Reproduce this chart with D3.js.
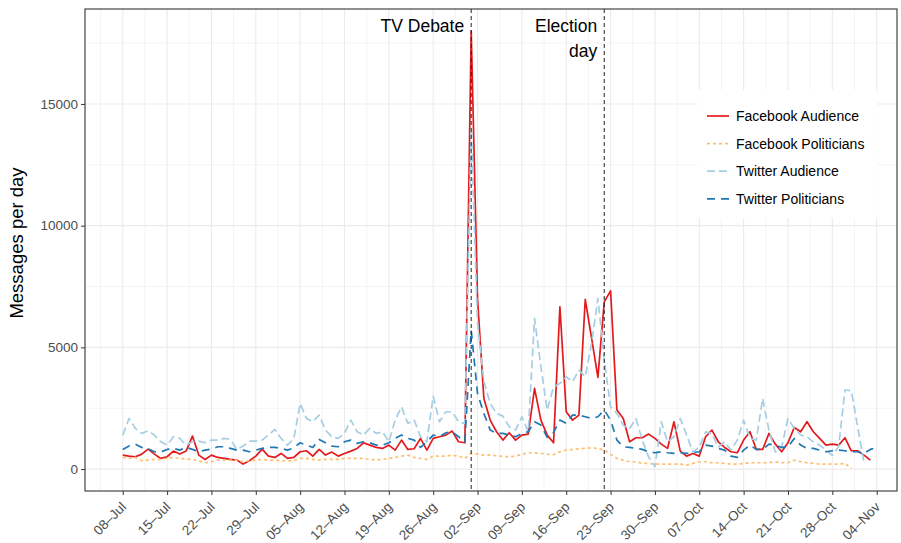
<!DOCTYPE html>
<html>
<head>
<meta charset="utf-8">
<script src="https://cdn.jsdelivr.net/npm/d3@7"></script>
<style>
body{margin:0;background:#fff;}
svg{display:block;font-family:"Liberation Sans", Arial, Helvetica, sans-serif;}
</style>
</head>
<body>
<div id="chart"></div>
<script>
// daily counts, starting 08-Jul-2013 (one value per day, null = no data)
var startDate = new Date(Date.UTC(2013, 6, 8));

var fbAudience = [575, 534, 507, 616, 821, 616, 438, 507, 739, 616,
  739, 1355, 575, 397, 575, 479, 438, 397, 370, 205,
  342, 534, 821, 534, 479, 643, 438, 479, 712, 753,
  534, 808, 575, 698, 534, 643, 739, 849, 1081, 986,
  890, 849, 986, 780, 1191, 808, 835, 1260, 780, 1260,
  1328, 1396, 1561, 1122, 1081, 18000, 7000, 2900, 2012, 1533,
  1191, 1492, 1191, 1396, 1437, 3313, 2012, 1396, 1081, 6667,
  2355, 2012, 2218, 6968, 5380, 3765, 6872, 7324, 2423, 2081,
  1122, 1287, 1287, 1437, 1260, 1027, 849, 1944, 739, 534,
  643, 534, 1328, 1602, 1122, 890, 712, 671, 1191, 1533,
  808, 808, 1465, 1027, 712, 1081, 1711, 1533, 1944, 1533,
  1260, 986, 1027, 986, 1287, 753, 753, 575, 370, null];

var fbPoliticians = [479, 438, 479, 342, 370, 397, 397, 438, 479, 438,
  411, 397, 342, 260, 301, 370, 370, 370, 370, 301,
  342, 370, 397, 370, 370, 342, 342, 350, 438, 438,
  397, 370, 397, 397, 397, 438, 438, 438, 438, 397,
  370, 397, 438, 479, 534, 575, 479, 438, 397, 534,
  534, 534, 575, 534, 438, 643, 616, 575, 575, 548,
  520, 507, 534, 602, 671, 671, 643, 616, 589, 712,
  780, 808, 835, 849, 876, 849, 780, 616, 438, 370,
  301, 301, 233, 233, 205, 205, 205, 205, 205, 164,
  233, 301, 301, 260, 260, 233, 205, 205, 233, 260,
  260, 260, 260, 301, 260, 260, 370, 301, 260, 233,
  205, 205, 205, 205, 233, 30, null, null, null, null];

var twAudience = [1396, 2081, 1670, 1465, 1574, 1396, 1122, 986, 1328, 1260,
  986, 1122, 1150, 1081, 1191, 1191, 1260, 1218, 808, 945,
  1150, 1150, 1191, 1396, 1629, 1260, 986, 1250, 2697, 2081,
  1944, 2218, 1602, 1328, 1260, 1465, 2012, 1533, 1396, 1670,
  1465, 1533, 1122, 2012, 2560, 1876, 2012, 1328, 1122, 3000,
  1944, 2355, 2355, 1944, 1876, 14000, 6000, 3600, 2697, 2286,
  2177, 1739, 1602, 2149, 1533, 6188, 4203, 2423, 3381, 3518,
  3792, 3587, 4066, 3792, 5161, 7009, 4477, 2560, 2286, 1800,
  1650, 2080, 1190, 500, 100, 1940, 1120, 1330, 2080, 1400,
  700, 900, 1530, 1460, 900, 1120, 780, 1190, 2010, 1260,
  1190, 2900, 1600, 700, 900, 2080, 1670, 1400, 1330, 1120,
  980, 780, 570, 920, 3250, 3220, 1730, 270, null, null];

var twPoliticians = [808, 950, 1027, 890, 835, 712, 700, 808, 849, 780,
  890, 808, 712, 780, 821, 917, 917, 849, 780, 780,
  712, 780, 849, 890, 890, 849, 780, 870, 1081, 986,
  890, 1218, 1081, 945, 917, 1122, 1191, 1054, 1122, 1081,
  986, 986, 1081, 1260, 1396, 1260, 1191, 890, 1122, 1396,
  1328, 1492, 1533, 1328, 1122, 5700, 3100, 2286, 1602, 1465,
  1465, 1396, 1328, 1465, 1533, 1944, 1807, 1300, 1500, 2012,
  1876, 2218, 2218, 2149, 2081, 2149, 2423, 2012, 1191, 917,
  890, 849, 808, 712, 671, 712, 671, 643, 671, 643,
  671, 712, 986, 945, 849, 780, 534, 479, 780, 986,
  808, 808, 1027, 986, 890, 917, 1260, 986, 849, 849,
  780, 712, 753, 780, 753, 712, 712, 643, 808, 890];

var seriesNames = ["Facebook Audience", "Facebook Politicians", "Twitter Audience", "Twitter Politicians"];
var tickLabels = ["08\u2013Jul", "15\u2013Jul", "22\u2013Jul", "29\u2013Jul", "05\u2013Aug", "12\u2013Aug",
  "19\u2013Aug", "26\u2013Aug", "02\u2013Sep", "09\u2013Sep", "16\u2013Sep", "23\u2013Sep",
  "30\u2013Sep", "07\u2013Oct", "14\u2013Oct", "21\u2013Oct", "28\u2013Oct", "04\u2013Nov"];
var yTicks = [0, 5000, 10000, 15000];
var eventDays = [55, 76];   // 01-Sep (TV debate), 22-Sep (election)
var eventLabels = [["TV Debate"], ["Election", "day"]];

// styles
var colors = ["#e31a1c", "#fdbf6f", "#a6cee3", "#1f78b4"];
var dashes = [null, "3,3", "8,4", "8,6"];
var gridColor = "#ebebeb";

var W = 901, H = 543;
var panel = {left: 85, right: 897, top: 9, bottom: 491};

var svg = d3.select("#chart").append("svg")
  .attr("width", W).attr("height", H);

var x = d3.scaleUtc()
  .domain([d3.utcHour.offset(startDate, -143), d3.utcHour.offset(startDate, 2933)])
  .range([panel.left, panel.right]);
var y = d3.scaleLinear()
  .domain([-900, 18900])
  .range([panel.bottom, panel.top]);

var days = fbAudience.map(function(v, i){ return d3.utcDay.offset(startDate, i); });
var tickDates = tickLabels.map(function(t, i){ return d3.utcDay.offset(startDate, 7 * i); });

//GRID
var grid = svg.append("g");
// minor x lines halfway between weekly ticks
var minorX = [d3.utcHour.offset(startDate, -84)].concat(tickDates.map(function(d){ return d3.utcHour.offset(d, 84); }));
grid.selectAll(".mx").data(minorX.filter(function(d){ return x(d) > panel.left && x(d) < panel.right; }))
  .enter().append("line")
  .attr("x1", function(d){ return x(d); }).attr("x2", function(d){ return x(d); })
  .attr("y1", panel.top).attr("y2", panel.bottom)
  .attr("stroke", gridColor).attr("stroke-width", 0.6);
var minorY = yTicks.map(function(t){ return t + 2500; });
grid.selectAll(".my").data(minorY)
  .enter().append("line")
  .attr("x1", panel.left).attr("x2", panel.right)
  .attr("y1", function(d){ return y(d); }).attr("y2", function(d){ return y(d); })
  .attr("stroke", gridColor).attr("stroke-width", 0.6);
grid.selectAll(".gx").data(tickDates)
  .enter().append("line")
  .attr("x1", function(d){ return x(d); }).attr("x2", function(d){ return x(d); })
  .attr("y1", panel.top).attr("y2", panel.bottom)
  .attr("stroke", gridColor).attr("stroke-width", 1.1);
grid.selectAll(".gy").data(yTicks)
  .enter().append("line")
  .attr("x1", panel.left).attr("x2", panel.right)
  .attr("y1", function(d){ return y(d); }).attr("y2", function(d){ return y(d); })
  .attr("stroke", gridColor).attr("stroke-width", 1.1);

//LINES
svg.append("clipPath").attr("id", "clip").append("rect")
  .attr("x", panel.left).attr("y", panel.top)
  .attr("width", panel.right - panel.left).attr("height", panel.bottom - panel.top);

var allSeries = [fbAudience, fbPoliticians, twAudience, twPoliticians];
var line = d3.line()
  .defined(function(d){ return d[1] != null; })
  .x(function(d){ return x(d[0]); })
  .y(function(d){ return y(d[1]); });

var plot = svg.append("g").attr("clip-path", "url(#clip)");
allSeries.forEach(function(vals, k){
  plot.append("path")
    .datum(vals.map(function(v, i){ return [days[i], v]; }))
    .attr("d", line)
    .attr("fill", "none")
    .attr("stroke", colors[k])
    .attr("stroke-width", 1.7)
    .attr("stroke-dasharray", dashes[k])
    .attr("stroke-linejoin", "round");
});

// event lines + labels
eventDays.forEach(function(d, k){
  var ex = x(days[d]);
  plot.append("line")
    .attr("x1", ex).attr("x2", ex)
    .attr("y1", panel.top).attr("y2", panel.bottom)
    .attr("stroke", "#222").attr("stroke-width", 1)
    .attr("stroke-dasharray", "4,3");
  eventLabels[k].forEach(function(t, j){
    svg.append("text")
      .attr("x", ex - 7).attr("y", 32 + j * 25)
      .attr("text-anchor", "end")
      .attr("font-size", "17.5px")
      .attr("fill", "#000")
      .text(t);
  });
});

//AXES
var xAxis = svg.append("g")
  .attr("transform", "translate(0," + panel.bottom + ")")
  .call(d3.axisBottom(x).tickValues(tickDates)
    .tickFormat(function(d, i){ return tickLabels[i]; })
    .tickSize(4).tickSizeOuter(0));
xAxis.select(".domain").remove();
xAxis.selectAll(".tick line").attr("stroke", "#333");
xAxis.selectAll(".tick text")
  .attr("x", 0).attr("y", 0).attr("dy", "0.71em")
  .attr("transform", "translate(-3,10) rotate(-45)")
  .attr("text-anchor", "end")
  .attr("font-size", "13.5px")
  .attr("font-family", "Liberation Sans, Arial, sans-serif")
  .attr("fill", "#4d4d4d");

var yAxis = svg.append("g")
  .attr("transform", "translate(" + panel.left + ",0)")
  .call(d3.axisLeft(y).tickValues(yTicks).tickFormat(d3.format("d")).tickSize(4).tickSizeOuter(0));
yAxis.select(".domain").remove();
yAxis.selectAll(".tick line").attr("stroke", "#333");
yAxis.selectAll(".tick text")
  .attr("font-size", "13.5px")
  .attr("font-family", "Liberation Sans, Arial, sans-serif")
  .attr("fill", "#4d4d4d");

svg.append("text")
  .attr("transform", "translate(23," + ((panel.top + panel.bottom) / 2 - 7) + ") rotate(-90)")
  .attr("text-anchor", "middle")
  .attr("font-size", "18.5px")
  .attr("fill", "#000")
  .text("Messages per day");

// panel border
svg.append("rect")
  .attr("x", panel.left).attr("y", panel.top)
  .attr("width", panel.right - panel.left).attr("height", panel.bottom - panel.top)
  .attr("fill", "none").attr("stroke", "#333").attr("stroke-width", 1.1);

//LEGEND
var legend = svg.append("g").attr("transform", "translate(697,90)");
legend.append("rect").attr("width", 180).attr("height", 128).attr("fill", "#fff");
seriesNames.forEach(function(name, k){
  var ly = 26 + k * 27.6;
  legend.append("line")
    .attr("x1", 10).attr("x2", 32).attr("y1", ly).attr("y2", ly)
    .attr("stroke", colors[k]).attr("stroke-width", 1.7)
    .attr("stroke-dasharray", dashes[k]);
  legend.append("text")
    .attr("x", 39).attr("y", ly).attr("dy", "0.35em")
    .attr("font-size", "14px")
    .attr("fill", "#000")
    .text(name);
});
</script>
</body>
</html>
